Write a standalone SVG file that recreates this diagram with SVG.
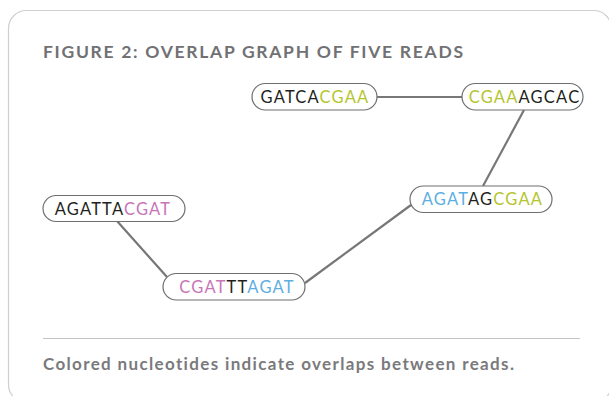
<svg xmlns="http://www.w3.org/2000/svg" width="609" height="396" viewBox="0 0 609 396">
  <style>
    .frame { fill: #ffffff; stroke: #cfcfcf; stroke-width: 1.2; }
    .title { font-family: Lato, "Open Sans", sans-serif; font-weight: 700; font-size: 17.5px; letter-spacing: 1.7px; fill: #717174; }
    .caption { font-family: Lato, "Open Sans", sans-serif; font-weight: 700; font-size: 17px; letter-spacing: 1.35px; fill: #7a7a7d; }
    .rule { stroke: #c4c4c4; stroke-width: 1.2; }
    .pill { fill: #ffffff; stroke: #6f6f6f; stroke-width: 1.2; }
    .seq { font-family: Lato, "Open Sans", sans-serif; font-size: 16.5px; letter-spacing: 1.2px; fill: #231f20; text-anchor: middle; }
    .g { fill: #b4c52e; }
    .p { fill: #c875b8; }
    .b { fill: #5daee2; }
    .edge { stroke: #777777; stroke-width: 2.2; fill: none; }
  </style>

  <!-- card outline, running past the right and bottom edges -->
  <rect class="frame" x="8.5" y="10.5" width="603" height="392" rx="18"/>

  <text class="title" x="43" y="57.5">FIGURE 2: OVERLAP GRAPH OF FIVE READS</text>

  <!-- overlap edges -->
  <g id="edges">
    <line class="edge" x1="377" y1="97" x2="462" y2="97"/>
    <line class="edge" x1="524" y1="110" x2="483" y2="186"/>
    <line class="edge" x1="411" y1="205" x2="305" y2="283"/>
    <line class="edge" x1="117" y1="221" x2="167" y2="277"/>
  </g>

  <g id="read-gatcacgaa">
    <rect class="pill" x="252" y="83.5" width="125" height="26.5" rx="13.25"/>
    <text class="seq" x="315" y="102.5">GATCA<tspan class="g">CGAA</tspan></text>
  </g>

  <g id="read-cgaaagcac">
    <rect class="pill" x="462" y="83.5" width="121" height="26.5" rx="13.25"/>
    <text class="seq" x="524.5" y="102.5"><tspan class="g">CGAA</tspan>AGCAC</text>
  </g>

  <g id="read-agatagcgaa">
    <rect class="pill" x="410" y="186" width="142" height="26.5" rx="13.25"/>
    <text class="seq" x="482.5" y="205"><tspan class="b">AGAT</tspan>AG<tspan class="g">CGAA</tspan></text>
  </g>

  <g id="read-agattacgat">
    <rect class="pill" x="43" y="195.5" width="142" height="26" rx="13"/>
    <text class="seq" x="113" y="214.5">AGATTA<tspan class="p">CGAT</tspan></text>
  </g>

  <g id="read-cgatttagat">
    <rect class="pill" x="163" y="273.5" width="142" height="26.5" rx="13.25"/>
    <text class="seq" x="237" y="292.5"><tspan class="p">CGAT</tspan>TT<tspan class="b">AGAT</tspan></text>
  </g>

  <line class="rule" x1="43" y1="338.5" x2="580" y2="338.5"/>
  <text class="caption" x="43" y="370">Colored nucleotides indicate overlaps between reads.</text>
</svg>
